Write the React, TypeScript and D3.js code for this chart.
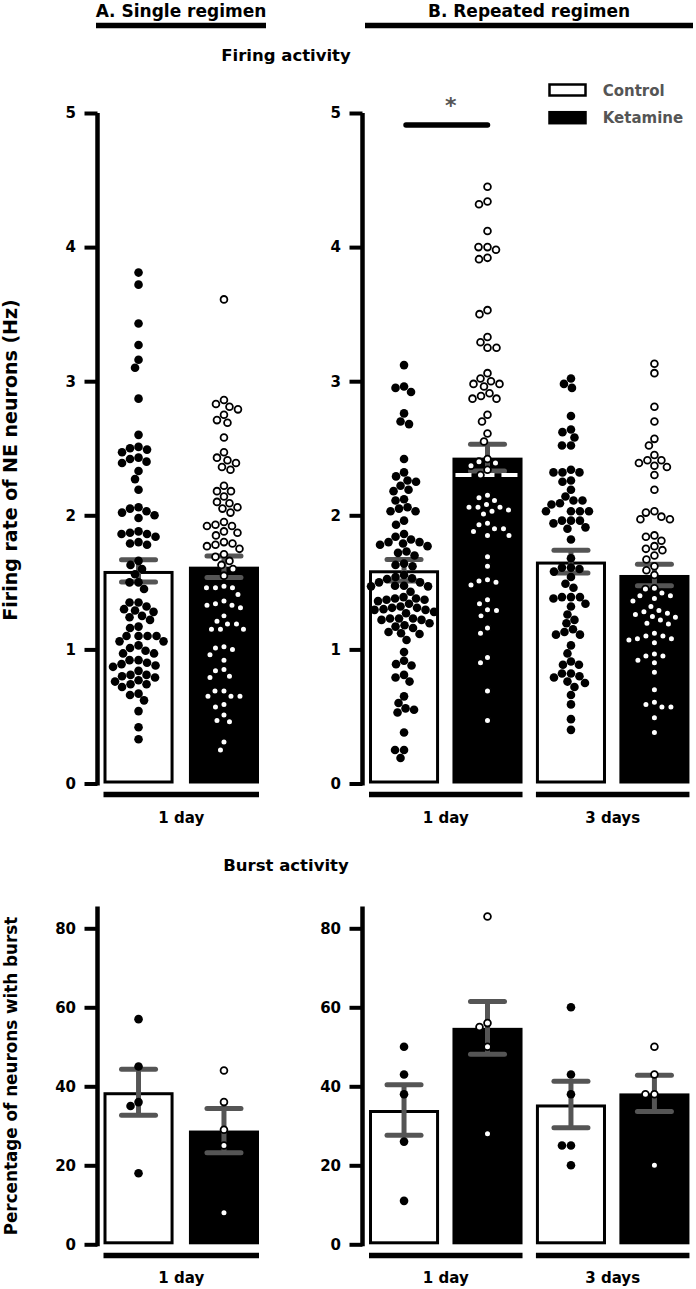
import * as d3 from 'd3';
import { useEffect, useRef } from 'react';

const FONT = '"DejaVu Sans", sans-serif';
const GRAY = '#555555';

// group order: A control, A ketamine, B control 1d, B ketamine 1d, B control 3d, B ketamine 3d
const treatments = ['Control', 'Ketamine', 'Control', 'Ketamine', 'Control', 'Ketamine'];
const panels = ['A', 'A', 'B', 'B', 'B', 'B'];
const dayLabels = ['1 day', '1 day', '3 days'];

// firing rate (Hz) of each neuron
const firingCtrlA = [3.81, 3.72, 3.43, 3.27, 3.16, 3.10, 2.87, 2.60, 2.51, 2.50, 2.49, 2.47, 2.43, 2.42, 2.40, 2.39,
  2.33, 2.27, 2.19, 2.06, 2.05, 2.03, 2.02, 2.00, 1.98, 1.88, 1.87, 1.86, 1.86, 1.84, 1.80, 1.79, 1.78,
  1.66, 1.63, 1.60, 1.56, 1.50, 1.50, 1.45, 1.35, 1.35, 1.32, 1.30, 1.29, 1.28, 1.25, 1.24, 1.22, 1.17, 1.16,
  1.10, 1.10, 1.10, 1.10, 1.06, 1.06, 1.03, 1.01, 0.99, 0.97, 0.97, 0.92, 0.92, 0.90, 0.89, 0.88, 0.87, 0.84,
  0.81, 0.81, 0.80, 0.79, 0.77, 0.76, 0.74, 0.74, 0.72, 0.67, 0.66, 0.62, 0.54, 0.42, 0.33];
const firingKetA = [3.61, 2.86, 2.83, 2.81, 2.79, 2.75, 2.71, 2.69, 2.58, 2.47, 2.43, 2.41, 2.39, 2.36, 2.34, 2.22,
  2.18, 2.18, 2.14, 2.10, 2.09, 2.06, 2.05, 2.02, 1.95, 1.93, 1.92, 1.92, 1.88, 1.87, 1.85, 1.80, 1.79, 1.78,
  1.77, 1.75, 1.71, 1.69, 1.66, 1.63, 1.60, 1.55, 1.47, 1.46, 1.46, 1.46, 1.41, 1.36, 1.34, 1.33, 1.33, 1.31,
  1.25, 1.21, 1.19, 1.19, 1.15, 1.15, 1.15, 1.02, 1.01, 1.00, 0.96, 0.92, 0.85, 0.84, 0.80, 0.79, 0.69, 0.69,
  0.65, 0.65, 0.65, 0.59, 0.57, 0.51, 0.47, 0.46, 0.31, 0.25];
const firingCtrlB1 = [3.12, 2.95, 2.92, 2.96, 2.76, 2.70, 2.68, 2.42, 2.32, 2.29, 2.26, 2.22, 2.25, 2.19, 2.18, 2.12,
  2.11, 2.06, 2.03, 2.03, 2.05, 1.93, 1.96, 1.86, 1.82, 1.84, 1.79, 1.77, 1.80, 1.78, 1.80, 1.72, 1.73, 1.70,
  1.63, 1.64, 1.62, 1.53, 1.525, 1.54, 1.555, 1.50, 1.475, 1.475, 1.50, 1.43, 1.47, 1.47, 1.38, 1.36, 1.37,
  1.34, 1.39, 1.37, 1.38, 1.32, 1.28, 1.295, 1.27, 1.31, 1.295, 1.30, 1.31, 1.23, 1.23, 1.195, 1.16, 1.17,
  1.22, 1.22, 1.23, 1.12, 1.07, 1.115, 1.13, 1.18, 0.98, 0.89, 0.88, 0.915, 0.79, 0.76, 0.81, 0.65, 0.60,
  0.55, 0.53, 0.56, 0.38, 0.25, 0.25, 0.19];
const firingKetB1 = [4.45, 4.34, 4.32, 4.12, 4.00, 4.00, 3.98, 3.92, 3.91, 3.53, 3.50, 3.33, 3.25, 3.25, 3.29, 3.06,
  3.02, 2.98, 2.96, 2.98, 3.00, 2.91, 2.87, 2.87, 2.89, 2.75, 2.70, 2.61, 2.55, 2.40, 2.42, 2.37, 2.39, 2.34,
  2.30, 2.13, 2.15, 2.11, 2.06, 2.06, 2.03, 2.01, 2.04, 2.06, 2.08, 1.94, 1.90, 1.85, 1.85, 1.88, 1.90, 1.93,
  1.69, 1.62, 1.50, 1.48, 1.51, 1.52, 1.37, 1.34, 1.295, 1.25, 1.29, 1.16, 1.12, 0.94, 0.90, 0.69, 0.47];
const firingCtrlB3 = [3.02, 2.98, 2.95, 2.74, 2.64, 2.62, 2.58, 2.52, 2.52, 2.34, 2.32, 2.32, 2.32, 2.26, 2.25, 2.19,
  2.14, 2.08, 2.11, 2.11, 2.03, 2.03, 2.03, 2.09, 2.03, 1.96, 1.94, 1.90, 1.91, 1.96, 1.96, 1.82, 1.68, 1.60,
  1.58, 1.54, 1.61, 1.61, 1.49, 1.46, 1.39, 1.39, 1.38, 1.32, 1.34, 1.39, 1.26, 1.195, 1.22, 1.13, 1.11, 1.11,
  1.15, 1.03, 0.97, 0.91, 0.885, 0.885, 0.82, 0.80, 0.79, 0.82, 0.76, 0.75, 0.72, 0.66, 0.59, 0.48, 0.40];
const firingKetB3 = [3.13, 3.06, 2.81, 2.70, 2.57, 2.52, 2.45, 2.41, 2.36, 2.37, 2.39, 2.41, 2.30, 2.19, 2.02, 1.97,
  1.97, 1.99, 2.03, 1.85, 1.84, 1.81, 1.77, 1.74, 1.75, 1.70, 1.67, 1.59, 1.62, 1.555, 1.456, 1.40, 1.38, 1.42,
  1.36, 1.40, 1.45, 1.32, 1.27, 1.28, 1.245, 1.22, 1.19, 1.195, 1.24, 1.26, 1.29, 1.12, 1.10, 1.08, 1.05, 1.07,
  1.08, 1.10, 0.95, 0.965, 0.90, 0.92, 0.95, 0.83, 0.70, 0.59, 0.57, 0.57, 0.605, 0.49, 0.38];
const firingPoints = [firingCtrlA, firingKetA, firingCtrlB1, firingKetB1, firingCtrlB3, firingKetB3];
const firingMean = [1.585, 1.617, 1.59, 2.43, 1.655, 1.555];
const firingSem = [0.083, 0.08, 0.08, 0.1, 0.085, 0.08];
const ketB1Line = 2.3;

// % of neurons with burst, per animal
const burstPoints = [
  [57, 45, 36, 35, 18],
  [44, 36, 29, 25, 8],
  [50, 43, 38, 26, 11],
  [83, 56, 55, 50, 28],
  [60, 43, 38, 25, 25, 20],
  [50, 43, 38, 38, 20],
];
const burstMean = [38.5, 28.8, 34.0, 54.8, 35.4, 38.2];
const burstSem = [5.8, 5.6, 6.4, 6.7, 5.9, 4.6];

const firingTicks = [0, 1, 2, 3, 4, 5];
const burstTicks = [0, 20, 40, 60, 80];

// simple beeswarm: push each dot sideways until it clears the ones already placed
const swarm = (values: number[], y: any, cx: number, d: number) => {
  const pts = values.map((v) => ({ v, y: y(v), x: 0 }));
  const placed: any[] = [];
  pts.slice().sort((a, b) => a.y - b.y).forEach((p) => {
    for (let k = 0; k < 400; k++) {
      const off = (k % 2 === 0 ? 1 : -1) * Math.ceil(k / 2) * 0.5;
      if (placed.every((q) => (q.x - off) ** 2 + (q.y - p.y) ** 2 >= d * d)) {
        p.x = off;
        break;
      }
    }
    placed.push(p);
  });
  return pts.map((p) => ({ ...p, x: cx + p.x }));
};

const App = () => {
  const ref = useRef<SVGSVGElement>(null);

  useEffect(() => {
    const svg = d3.select(ref.current);
    svg.selectAll('*').remove();

    const xA = d3.scaleBand<number>().domain([0, 1]).range([103.5, 259]).paddingInner(0.18);
    const xB = d3.scaleBand<number>().domain([2, 3, 4, 5]).range([369, 689.5]).paddingInner(0.16);
    const xOf = (i: number) => (panels[i] === 'A' ? xA(i) : xB(i)) as number;
    const bw = xA.bandwidth();
    const axisX = { A: 97.5, B: 362.5 };

    const yF = d3.scaleLinear().domain([0, 5]).range([783.5, 113]);
    const yBu = d3.scaleLinear().domain([0, 80]).range([1244.3, 928.3]);

    const drawBars = (y: any, means: number[], sems: number[]) => {
      const g = svg.append('g');
      const base = y(0);

      means.forEach((m, i) => {
        const x = xOf(i);
        if (treatments[i] === 'Control') {
          g.append('rect').attr('x', x + 1.5).attr('y', y(m) + 1.5)
            .attr('width', bw - 3).attr('height', base - y(m) - 3)
            .attr('fill', '#fff').attr('stroke', '#000').attr('stroke-width', 3);
        } else {
          g.append('rect').attr('x', x).attr('y', y(m))
            .attr('width', bw).attr('height', base - y(m)).attr('fill', '#000');
        }
      });

      // error bars (mean ± SEM)
      means.forEach((m, i) => {
        const cx = xOf(i) + bw / 2;
        const hi = y(m + sems[i]);
        const lo = y(m - sems[i]);
        g.append('line').attr('x1', cx).attr('x2', cx).attr('y1', hi).attr('y2', lo)
          .attr('stroke', GRAY).attr('stroke-width', 5);
        [hi, lo].forEach((yy) => {
          g.append('line').attr('x1', cx - 17).attr('x2', cx + 17).attr('y1', yy).attr('y2', yy)
            .attr('stroke', GRAY).attr('stroke-width', 5).attr('stroke-linecap', 'round');
        });
      });

      return g;
    };

    const drawDots = (g: any, y: any, pts: number[][]) => {
      pts.forEach((vals, i) => {
        const cx = xOf(i) + bw / 2;
        const dots = swarm(vals, y, cx, 8.6);
        const ctrl = treatments[i] === 'Control';
        g.selectAll(null).data(dots).enter().append('circle')
          .attr('cx', (d: any) => d.x).attr('cy', (d: any) => d.y)
          .attr('r', ctrl ? 4.3 : 3.4)
          .attr('fill', ctrl ? '#000' : '#fff')
          .attr('stroke', ctrl ? 'none' : '#000')
          .attr('stroke-width', 1.8);
      });
    };

    const drawAxes = (y: any, ticks: number[], axisTop: number, groupY: number, labelY: number) => {
      (['A', 'B'] as const).forEach((p) => {
        const ax = svg.append('g').attr('transform', `translate(${axisX[p]},0)`)
          .call(d3.axisLeft(y).tickValues(ticks).tickSize(13).tickSizeOuter(0).tickPadding(8.5).tickFormat(d3.format('d')));
        ax.select('.domain').remove();
        ax.append('line').attr('x1', 0).attr('x2', 0).attr('y1', y(axisTop)).attr('y2', y(0) + 2)
          .attr('stroke', '#000').attr('stroke-width', 4.5);
        ax.selectAll('.tick line').attr('stroke', '#000').attr('stroke-width', 4);
        ax.selectAll('.tick text').attr('fill', '#000').style('font-family', FONT)
          .style('font-weight', 'bold').style('font-size', '15px');
      });

      // day group lines
      const groups = [[0, 1, 0], [2, 3, 1], [4, 5, 2]];
      groups.forEach(([a, b, k]) => {
        const x1 = xOf(a);
        const x2 = xOf(b) + bw;
        svg.append('line').attr('x1', x1).attr('x2', x2).attr('y1', groupY).attr('y2', groupY)
          .attr('stroke', '#000').attr('stroke-width', 5.5);
        svg.append('text').attr('x', (x1 + x2) / 2).attr('y', labelY).attr('text-anchor', 'middle')
          .style('font-family', FONT).style('font-weight', 'bold').style('font-size', '15px')
          .text(dayLabels[k]);
      });
    };

    // firing activity panel
    const top = drawBars(yF, firingMean, firingSem);
    // white dashed reference line in the repeated 1-day ketamine bar
    top.append('line').attr('x1', xOf(3) + 3).attr('x2', xOf(3) + bw - 2)
      .attr('y1', yF(ketB1Line)).attr('y2', yF(ketB1Line))
      .attr('stroke', '#fff').attr('stroke-width', 4).attr('stroke-dasharray', '16 7');
    drawDots(top, yF, firingPoints);
    drawAxes(yF, firingTicks, 5, 794.5, 822.5);

    // burst activity panel
    const bot = drawBars(yBu, burstMean, burstSem);
    drawDots(bot, yBu, burstPoints);
    drawAxes(yBu, burstTicks, 85.5, 1255.5, 1283);

    // significance bar
    const c2 = xOf(2) + bw / 2;
    const c3 = xOf(3) + bw / 2;
    const sigY = yF(4.91);
    svg.append('line').attr('x1', c2 + 2).attr('x2', c3).attr('y1', sigY).attr('y2', sigY)
      .attr('stroke', '#000').attr('stroke-width', 5.5).attr('stroke-linecap', 'round');
    svg.append('text').attr('x', (c2 + c3) / 2 + 5).attr('y', 113).attr('text-anchor', 'middle')
      .attr('fill', GRAY).style('font-family', FONT).style('font-weight', 'bold').style('font-size', '22px')
      .text('*');

    // regimen headers
    const headers = [
      { text: 'A. Single regimen', x1: 96, x2: 266 },
      { text: 'B. Repeated regimen', x1: 365, x2: 693 },
    ];
    headers.forEach((h) => {
      svg.append('text').attr('x', (h.x1 + h.x2) / 2).attr('y', 17).attr('text-anchor', 'middle')
        .style('font-family', FONT).style('font-weight', 'bold').style('font-size', '17px').text(h.text);
      svg.append('line').attr('x1', h.x1).attr('x2', h.x2).attr('y1', 25.5).attr('y2', 25.5)
        .attr('stroke', '#000').attr('stroke-width', 5.5);
    });

    // section titles
    [['Firing activity', 61], ['Burst activity', 871]].forEach(([t, y]) => {
      svg.append('text').attr('x', 286).attr('y', y as number).attr('text-anchor', 'middle')
        .style('font-family', FONT).style('font-weight', 'bold').style('font-size', '16.5px').text(t as string);
    });

    // y axis titles
    [['Firing rate of NE neurons (Hz)', 460, '19px'], ['Percentage of neurons with burst', 1076, '16.8px']].forEach(([t, cy, fs]) => {
      svg.append('text').attr('transform', `translate(17,${cy}) rotate(-90)`).attr('text-anchor', 'middle')
        .style('font-family', FONT).style('font-weight', 'bold').style('font-size', fs as string).text(t as string);
    });

    // legend
    const leg = svg.append('g');
    ['Control', 'Ketamine'].forEach((name, i) => {
      const yy = 84.5 + i * 27.7;
      leg.append('rect').attr('x', 549.5).attr('y', yy).attr('width', 36).attr('height', 11)
        .attr('fill', name === 'Control' ? '#fff' : '#000').attr('stroke', '#000').attr('stroke-width', 2.5);
      leg.append('text').attr('x', 602.7).attr('y', yy + 11.2)
        .attr('fill', GRAY).style('font-family', FONT).style('font-weight', 'bold').style('font-size', '15px')
        .text(name);
    });
  }, []);

  return (
    <svg ref={ref} width={696} height={1289}
      style={{ position: 'absolute', left: 0, top: 0, background: '#fff' }} />
  );
};

export default App;
